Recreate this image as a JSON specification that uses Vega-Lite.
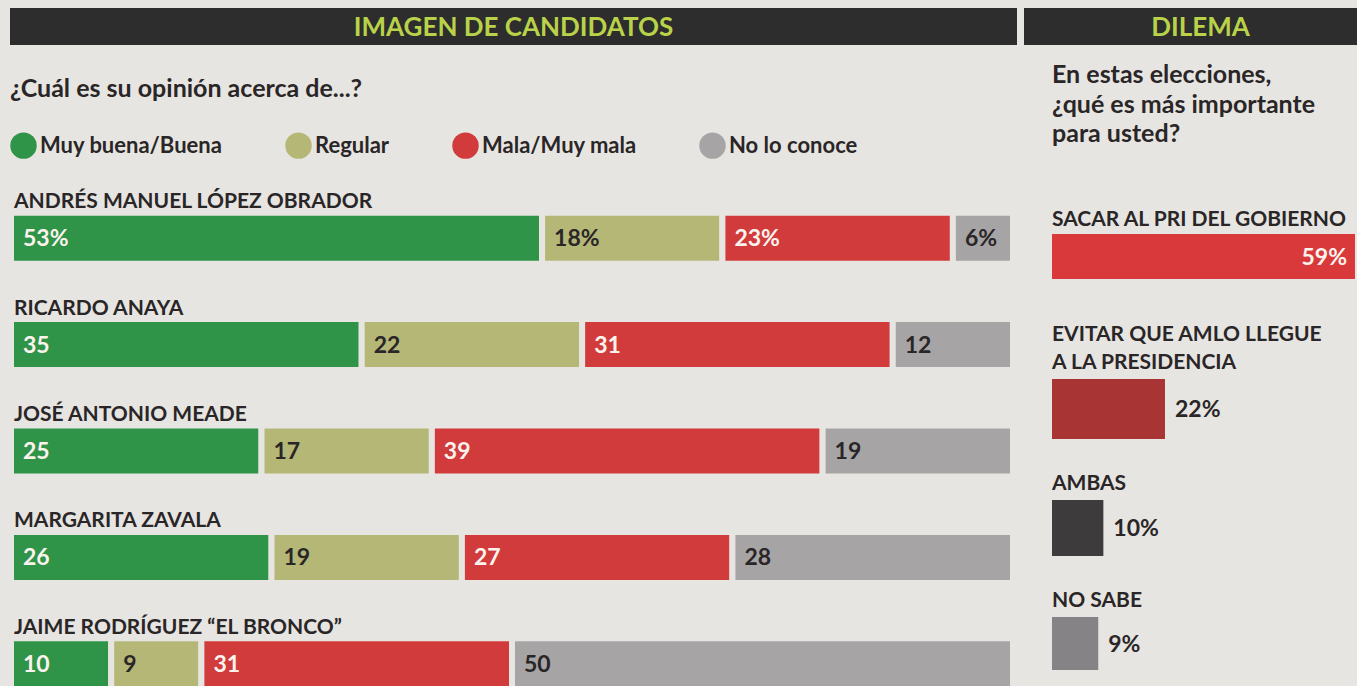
{
  "$schema": "https://vega.github.io/schema/vega-lite/v6.json",
  "background": "#e7e5e1",
  "padding": {"left": 8, "top": 8, "right": 0, "bottom": 0},
  "config": {"view": {"stroke": null}, "font": "Lato"},
  "datasets": {
    "imagen": [
      {"candidato": "ANDRÉS MANUEL LÓPEZ OBRADOR", "opinion": "Muy buena/Buena", "orden": 1, "pct": 53, "etiqueta": "53%"},
      {"candidato": "ANDRÉS MANUEL LÓPEZ OBRADOR", "opinion": "Regular", "orden": 2, "pct": 18, "etiqueta": "18%"},
      {"candidato": "ANDRÉS MANUEL LÓPEZ OBRADOR", "opinion": "Mala/Muy mala", "orden": 3, "pct": 23, "etiqueta": "23%"},
      {"candidato": "ANDRÉS MANUEL LÓPEZ OBRADOR", "opinion": "No lo conoce", "orden": 4, "pct": 6, "etiqueta": "6%"},
      {"candidato": "RICARDO ANAYA", "opinion": "Muy buena/Buena", "orden": 1, "pct": 35, "etiqueta": "35"},
      {"candidato": "RICARDO ANAYA", "opinion": "Regular", "orden": 2, "pct": 22, "etiqueta": "22"},
      {"candidato": "RICARDO ANAYA", "opinion": "Mala/Muy mala", "orden": 3, "pct": 31, "etiqueta": "31"},
      {"candidato": "RICARDO ANAYA", "opinion": "No lo conoce", "orden": 4, "pct": 12, "etiqueta": "12"},
      {"candidato": "JOSÉ ANTONIO MEADE", "opinion": "Muy buena/Buena", "orden": 1, "pct": 25, "etiqueta": "25"},
      {"candidato": "JOSÉ ANTONIO MEADE", "opinion": "Regular", "orden": 2, "pct": 17, "etiqueta": "17"},
      {"candidato": "JOSÉ ANTONIO MEADE", "opinion": "Mala/Muy mala", "orden": 3, "pct": 39, "etiqueta": "39"},
      {"candidato": "JOSÉ ANTONIO MEADE", "opinion": "No lo conoce", "orden": 4, "pct": 19, "etiqueta": "19"},
      {"candidato": "MARGARITA ZAVALA", "opinion": "Muy buena/Buena", "orden": 1, "pct": 26, "etiqueta": "26"},
      {"candidato": "MARGARITA ZAVALA", "opinion": "Regular", "orden": 2, "pct": 19, "etiqueta": "19"},
      {"candidato": "MARGARITA ZAVALA", "opinion": "Mala/Muy mala", "orden": 3, "pct": 27, "etiqueta": "27"},
      {"candidato": "MARGARITA ZAVALA", "opinion": "No lo conoce", "orden": 4, "pct": 28, "etiqueta": "28"},
      {"candidato": "JAIME RODRÍGUEZ “EL BRONCO”", "opinion": "Muy buena/Buena", "orden": 1, "pct": 10, "etiqueta": "10"},
      {"candidato": "JAIME RODRÍGUEZ “EL BRONCO”", "opinion": "Regular", "orden": 2, "pct": 9, "etiqueta": "9"},
      {"candidato": "JAIME RODRÍGUEZ “EL BRONCO”", "opinion": "Mala/Muy mala", "orden": 3, "pct": 31, "etiqueta": "31"},
      {"candidato": "JAIME RODRÍGUEZ “EL BRONCO”", "opinion": "No lo conoce", "orden": 4, "pct": 50, "etiqueta": "50"}
    ],
    "dilema": [
      {"opcion": "SACAR AL PRI DEL GOBIERNO", "pct": 59, "etiqueta": "59%"},
      {"opcion": "EVITAR QUE AMLO LLEGUE A LA PRESIDENCIA", "pct": 22, "etiqueta": "22%"},
      {"opcion": "AMBAS", "pct": 10, "etiqueta": "10%"},
      {"opcion": "NO SABE", "pct": 9, "etiqueta": "9%"}
    ]
  },
  "spacing": 7,
  "resolve": {"scale": {"color": "independent"}, "legend": {"color": "independent"}},
  "hconcat": [
    {
      "spacing": 32,
      "resolve": {"scale": {"color": "independent"}, "legend": {"color": "independent"}},
      "vconcat": [
        {
          "width": 1007,
          "height": 37,
          "view": {"fill": "#2c2d2c", "stroke": null},
          "data": {"values": [{"t": "IMAGEN DE CANDIDATOS"}]},
          "mark": {"type": "text", "font": "Lato", "fontWeight": "bold", "fontSize": 26, "color": "#b9d24a", "align": "center", "baseline": "middle", "dy": 1},
          "encoding": {"text": {"field": "t"}}
        },
        {
          "width": 1007,
          "height": 532,
          "title": {"text": "¿Cuál es su opinión acerca de...?", "anchor": "start", "font": "Lato", "fontSize": 25, "fontWeight": "bold", "color": "#2a2627", "offset": 30, "dx": 2},
          "data": {"name": "imagen"},
          "transform": [
            {"stack": "pct", "groupby": ["candidato"], "sort": [{"field": "orden", "order": "ascending"}], "as": ["x0", "x1"]}
          ],
          "encoding": {
            "y": {"field": "candidato", "type": "nominal", "sort": null, "axis": null, "scale": {"paddingInner": 0, "paddingOuter": 0}}
          },
          "layer": [
            {
              "mark": {"type": "bar", "size": 51, "stroke": "#e7e5e1", "strokeWidth": 6},
              "encoding": {
                "x": {"field": "x0", "type": "quantitative", "axis": null, "scale": {"domain": [0, 100], "range": [1, 1003], "nice": false}},
                "x2": {"field": "x1"},
                "color": {
                  "field": "opinion", "type": "nominal",
                  "scale": {"domain": ["Muy buena/Buena", "Regular", "Mala/Muy mala", "No lo conoce"], "range": ["#2f9447", "#b5b777", "#d23b3b", "#a6a4a5"]},
                  "legend": {"orient": "top", "direction": "horizontal", "title": null, "symbolType": "circle", "symbolSize": 700, "symbolStrokeWidth": 0, "symbolOpacity": 1, "labelFont": "Lato", "labelFontSize": 22, "labelFontWeight": "bold", "labelColor": "#2a2627", "labelOffset": 3, "labelLimit": 400, "columnPadding": 62, "offset": 26, "columns": 4, "padding": 0}
                }
              }
            },
            {
              "mark": {"type": "text", "align": "left", "baseline": "middle", "dx": 12, "dy": 1, "font": "Lato", "fontSize": 23, "fontWeight": "bold"},
              "encoding": {
                "x": {"field": "x0", "type": "quantitative"},
                "text": {"field": "etiqueta"},
                "color": {"condition": {"test": "datum.opinion === 'Regular' || datum.opinion === 'No lo conoce'", "value": "#2a2627"}, "value": "#fbf3ee"}
              }
            },
            {
              "transform": [{"filter": "datum.orden === 1"}],
              "mark": {"type": "text", "align": "left", "baseline": "alphabetic", "dx": 3, "dy": -30, "font": "Lato", "fontSize": 21, "fontWeight": "bold", "color": "#2a2627"},
              "encoding": {
                "x": {"datum": 0, "type": "quantitative"},
                "text": {"field": "candidato"}
              }
            }
          ]
        }
      ]
    },
    {
      "spacing": 18,
      "vconcat": [
        {
          "width": 333,
          "height": 37,
          "view": {"fill": "#2c2d2c", "stroke": null},
          "data": {"values": [{"t": "DILEMA"}]},
          "mark": {"type": "text", "font": "Lato", "fontWeight": "bold", "fontSize": 26, "color": "#b9d24a", "align": "center", "baseline": "middle", "dx": 10, "dy": 1},
          "encoding": {"text": {"field": "t"}}
        },
        {
          "width": 333,
          "height": 72,
          "title": {"text": ["En estas elecciones,", "¿qué es más importante", "para usted?"], "subtitle": "SACAR AL PRI DEL GOBIERNO", "anchor": "start", "dx": 28, "font": "Lato", "fontSize": 25, "fontWeight": "bold", "color": "#2a2627", "lineHeight": 29.5, "subtitleFont": "Lato", "subtitleFontSize": 21, "subtitleFontWeight": "bold", "subtitleColor": "#2a2627", "subtitlePadding": 62, "offset": 4},
          "data": {"name": "dilema"},
          "transform": [{"filter": "datum.opcion === 'SACAR AL PRI DEL GOBIERNO'"}],
          "encoding": {
            "y": {"field": "opcion", "type": "nominal", "axis": null, "scale": {"range": [0, 45], "paddingInner": 0, "paddingOuter": 0}},
            "x": {"field": "pct", "type": "quantitative", "axis": null, "scale": {"domain": [0, 59], "range": [28, 331], "nice": false}}
          },
          "layer": [
            {"mark": {"type": "bar", "color": "#d9393a"}},
            {"mark": {"type": "text", "align": "right", "baseline": "middle", "dx": -8, "dy": 1, "font": "Lato", "fontSize": 23, "fontWeight": "bold", "color": "#fbf3ee"}, "encoding": {"text": {"field": "etiqueta"}}}
          ]
        },
        {
          "width": 333,
          "height": 76,
          "title": {"text": ["EVITAR QUE AMLO LLEGUE", "A LA PRESIDENCIA"], "anchor": "start", "dx": 28, "font": "Lato", "fontSize": 21, "fontWeight": "bold", "color": "#2a2627", "lineHeight": 28, "offset": 6},
          "data": {"name": "dilema"},
          "transform": [{"filter": "datum.opcion === 'EVITAR QUE AMLO LLEGUE A LA PRESIDENCIA'"}],
          "encoding": {
            "y": {"field": "opcion", "type": "nominal", "axis": null, "scale": {"range": [0, 60], "paddingInner": 0, "paddingOuter": 0}},
            "x": {"field": "pct", "type": "quantitative", "axis": null, "scale": {"domain": [0, 59], "range": [28, 331], "nice": false}}
          },
          "layer": [
            {"mark": {"type": "bar", "color": "#a83434"}},
            {"mark": {"type": "text", "align": "left", "baseline": "middle", "dx": 10, "dy": 1, "font": "Lato", "fontSize": 23, "fontWeight": "bold", "color": "#2a2627"}, "encoding": {"text": {"field": "etiqueta"}}}
          ]
        },
        {
          "width": 333,
          "height": 72,
          "title": {"text": "AMBAS", "anchor": "start", "dx": 28, "font": "Lato", "fontSize": 21, "fontWeight": "bold", "color": "#2a2627", "offset": 6},
          "data": {"name": "dilema"},
          "transform": [{"filter": "datum.opcion === 'AMBAS'"}],
          "encoding": {
            "y": {"field": "opcion", "type": "nominal", "axis": null, "scale": {"range": [0, 56], "paddingInner": 0, "paddingOuter": 0}},
            "x": {"field": "pct", "type": "quantitative", "axis": null, "scale": {"domain": [0, 59], "range": [28, 331], "nice": false}}
          },
          "layer": [
            {"mark": {"type": "bar", "color": "#3d3b3c"}},
            {"mark": {"type": "text", "align": "left", "baseline": "middle", "dx": 10, "dy": 1, "font": "Lato", "fontSize": 23, "fontWeight": "bold", "color": "#2a2627"}, "encoding": {"text": {"field": "etiqueta"}}}
          ]
        },
        {
          "width": 333,
          "height": 53,
          "title": {"text": "NO SABE", "anchor": "start", "dx": 28, "font": "Lato", "fontSize": 21, "fontWeight": "bold", "color": "#2a2627", "offset": 6},
          "data": {"name": "dilema"},
          "transform": [{"filter": "datum.opcion === 'NO SABE'"}],
          "encoding": {
            "y": {"field": "opcion", "type": "nominal", "axis": null, "scale": {"range": [0, 53], "paddingInner": 0, "paddingOuter": 0}},
            "x": {"field": "pct", "type": "quantitative", "axis": null, "scale": {"domain": [0, 59], "range": [28, 331], "nice": false}}
          },
          "layer": [
            {"mark": {"type": "bar", "color": "#858385"}},
            {"mark": {"type": "text", "align": "left", "baseline": "middle", "dx": 10, "dy": 1, "font": "Lato", "fontSize": 23, "fontWeight": "bold", "color": "#2a2627"}, "encoding": {"text": {"field": "etiqueta"}}}
          ]
        }
      ]
    }
  ]
}
